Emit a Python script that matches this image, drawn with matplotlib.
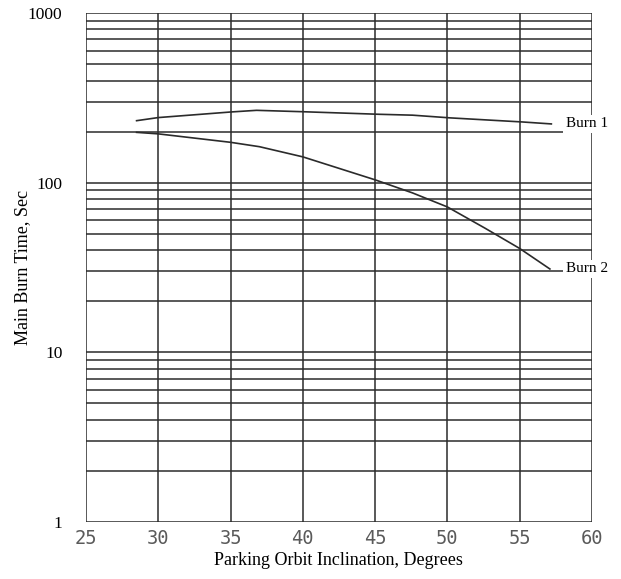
import numpy as np
import matplotlib.pyplot as plt

# main burn times vs parking orbit inclination
burn1_incl = [28.5, 30, 35, 36.8, 40, 45.3, 47.6, 50.2, 55.2, 57.2]
burn1_time = [232, 242, 261, 267, 262, 253, 250, 241, 228, 222]
burn2_incl = [28.5, 30, 35, 37, 40, 45, 47.6, 50, 52.6, 55, 57.1]
burn2_time = [198, 194, 173, 163, 142, 104, 87, 72, 54, 41, 31]

x_ticks = [25, 30, 35, 40, 45, 50, 55, 60]
y_ticks = [1, 10, 100, 1000]

line_col = '#2b2b2b'
serif = 'Liberation Serif'

fig = plt.figure(figsize=(6.21, 5.79), dpi=100)
ax = fig.add_axes([0.1385, 0.0984, 0.8145, 0.8791])
ax.set_yscale('log')
ax.set_xlim(25, 60)
ax.set_ylim(1, 1000)

# hand-drawn style grid: all 1..9 lines per decade, verticals every 5 deg
for dec in [1, 10, 100]:
    for m in range(1, 10):
        ax.axhline(dec * m, color=line_col, lw=1.1, zorder=1)
ax.axhline(1000, color=line_col, lw=1.1, zorder=1)
for xv in x_ticks:
    ax.axvline(xv, color=line_col, lw=1.1, zorder=1)

for s in ax.spines.values():
    s.set_visible(False)

ax.plot(burn1_incl, burn1_time, color=line_col, lw=1.2, zorder=3)
ax.plot(burn2_incl, burn2_time, color=line_col, lw=1.2, zorder=3)

lbl = dict(fontsize=11, family=serif, va='center', ha='left', zorder=5,
           clip_on=False, bbox=dict(facecolor='white', edgecolor='none', pad=2))
ax.text(58.2, burn1_time[-1], 'Burn 1', **lbl)
ax.text(58.2, burn2_time[-1], 'Burn 2', **lbl)

ax.set_xticks(x_ticks)
ax.set_xticklabels([str(v) for v in x_ticks], family='DejaVu Sans Mono',
                   fontsize=13.5, color='#5a5a5a')
ax.set_yticks(y_ticks)
ax.set_yticklabels([str(v) for v in y_ticks], family=serif, fontsize=12.5)
ax.yaxis.set_minor_locator(plt.NullLocator())
ax.tick_params(axis='both', length=0)
ax.tick_params(axis='y', pad=17)
ax.tick_params(axis='x', pad=5)

ax.set_xlabel('Parking Orbit Inclination, Degrees', family=serif,
              fontsize=13, labelpad=3)
ax.set_ylabel('Main Burn Time, Sec', family=serif, fontsize=13)
ax.yaxis.set_label_coords(-0.108, 0.5)

fig.savefig('out.png', dpi=100)
